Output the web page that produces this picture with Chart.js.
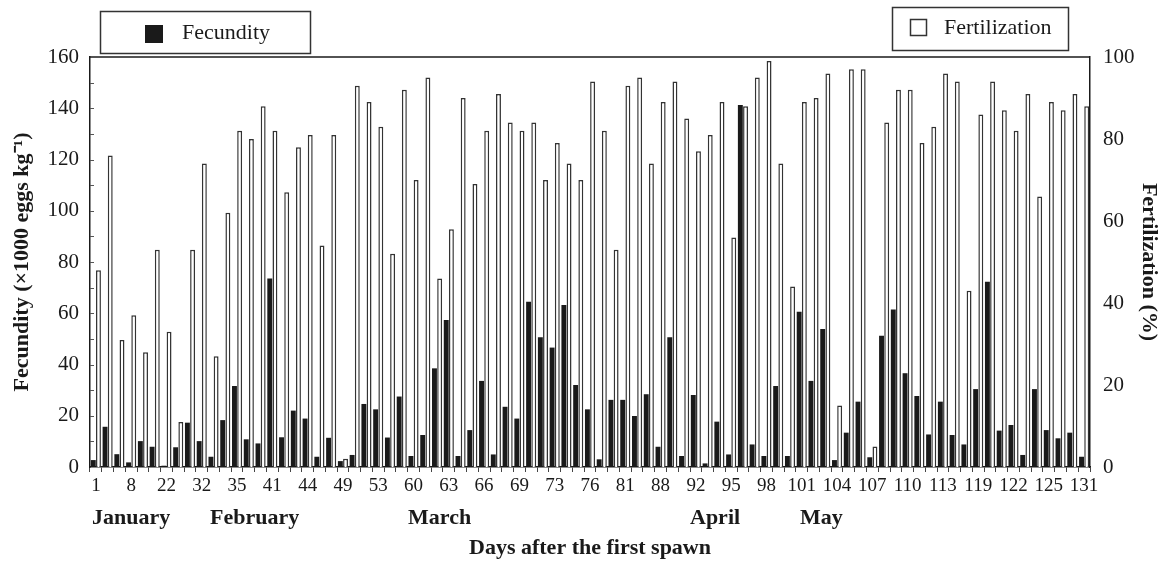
<!DOCTYPE html>
<html><head><meta charset="utf-8">
<script src="https://cdn.jsdelivr.net/npm/chart.js@4.4.1/dist/chart.umd.min.js"></script>
<style>html,body{margin:0;padding:0;background:#fff;} #wrap{width:1167px;height:573px;position:relative;}</style>
</head><body><div id="wrap"><canvas id="c" width="1167" height="573"></canvas></div>
<script>
const dayLabels = [1,8,22,32,35,41,44,49,53,60,63,66,69,73,76,81,88,92,95,98,101,104,107,110,113,119,122,125,131];
const fecundity = [2.7,15.7,5,1.8,10.1,7.9,0.5,7.7,17.3,10.1,4,18.3,31.6,10.8,9.2,73.6,11.6,22,18.9,4,
  11.4,2.3,4.7,24.6,22.5,11.5,27.5,4.3,12.5,38.5,57.4,4.3,14.4,33.6,4.9,23.5,18.9,64.5,50.6,46.6,
  63.2,32,22.5,3,26.2,26.2,19.9,28.4,7.9,50.6,4.3,28.1,1.4,17.7,4.9,141.3,8.8,4.3,31.6,4.3,
  60.6,33.6,53.9,2.7,13.4,25.5,3.8,51.2,61.5,36.6,27.7,12.7,25.5,12.5,8.8,30.4,72.3,14.2,16.4,4.7,
  30.4,14.4,11.2,13.4,4];
const fertilization = [48,76,31,37,28,53,33,11,53,74,27,62,82,80,88,82,67,78,81,54,
  81,2,93,89,83,52,92,70,95,46,58,90,69,82,91,84,82,84,70,79,
  74,70,94,82,53,93,95,74,89,94,85,77,81,89,56,88,95,99,74,44,
  89,90,96,15,97,97,5,84,92,92,79,83,96,94,43,86,94,87,82,91,
  66,89,87,91,88];
const months = ['January','February','March','April','May'];
const fecundityTicks = [0,20,40,60,80,100,120,140,160];
const fertilizationTicks = [0,20,40,60,80,100];

const categories = fecundity.map((_, i) => i % 3 === 0 ? String(dayLabels[i / 3]) : '');
const FONT = "'Liberation Serif', 'Times New Roman', serif";
const INK = '#1a1a1a';
const monthLeft = [92, 210, 408, 690, 800];

const decor = {
  id: 'decor',
  afterDraw(chart) {
    const {ctx, chartArea: a} = chart;
    const y = chart.scales.y;
    ctx.save();
    ctx.strokeStyle = INK; ctx.lineWidth = 1.5;
    ctx.beginPath(); ctx.moveTo(a.left, a.top); ctx.lineTo(a.right, a.top); ctx.stroke();
    ctx.lineWidth = 1; ctx.strokeStyle = '#555';
    for (let v = 10; v < 160; v += 10) {
      const py = Math.round(y.getPixelForValue(v)) + 0.5;
      ctx.beginPath(); ctx.moveTo(a.left, py); ctx.lineTo(a.left + 4, py); ctx.stroke();
    }
    ctx.lineWidth = 1.5; ctx.strokeStyle = '#333';
    ctx.strokeRect(100.5, 11.5, 210, 42);
    ctx.fillStyle = INK; ctx.fillRect(145, 25, 18, 18);
    ctx.strokeRect(892.5, 7.5, 176, 43);
    ctx.fillStyle = '#fff'; ctx.fillRect(910, 19, 16, 16);
    ctx.strokeRect(910.5, 19.5, 16, 16);
    ctx.fillStyle = INK; ctx.textBaseline = 'middle'; ctx.textAlign = 'left';
    ctx.font = "22px " + FONT;
    ctx.fillText('Fecundity', 182, 33);
    ctx.fillText('Fertilization', 944, 28);
    ctx.font = "bold 22px " + FONT;
    months.forEach((m, i) => ctx.fillText(m, monthLeft[i], 518));
    ctx.restore();
  }
};

new Chart(document.getElementById('c'), {
  type: 'bar',
  data: {
    labels: categories,
    datasets: [
      { label: 'Fecundity', data: fecundity, yAxisID: 'y', backgroundColor: INK, borderColor: INK, borderWidth: 0,
        categoryPercentage: 0.88, barPercentage: 0.95 },
      { label: 'Fertilization', data: fertilization, yAxisID: 'y1', backgroundColor: '#fff', borderColor: '#333', borderWidth: 1.5,
        categoryPercentage: 0.88, barPercentage: 0.95 }
    ]
  },
  options: {
    responsive: false, animation: false,
    layout: { padding: { top: 57, left: 0, right: 0, bottom: 0 } },
    plugins: { legend: { display: false }, tooltip: { enabled: false } },
    scales: {
      x: {
        offset: true,
        grid: { display: true, drawOnChartArea: false, drawTicks: true, tickLength: 5, color: '#444', offset: true },
        border: { display: true, color: INK, width: 1.5 },
        ticks: { autoSkip: false, maxRotation: 0, minRotation: 0, padding: 3, color: INK, font: { family: FONT, size: 19 } },
        title: { display: true, text: 'Days after the first spawn', color: INK, font: { family: FONT, size: 22, weight: 'bold' }, padding: { top: 0, bottom: 11 } },
        afterFit(s) { s.height = 106; }
      },
      y: {
        position: 'left', min: 0, max: 160,
        afterBuildTicks(s) { s.ticks = fecundityTicks.map(v => ({ value: v })); },
        grid: { display: false, drawTicks: false },
        border: { display: true, color: INK, width: 1.5 },
        ticks: { padding: 11, color: INK, font: { family: FONT, size: 21 } },
        title: { display: true, text: 'Fecundity (×1000 eggs kg⁻¹)', color: INK, font: { family: FONT, size: 22, weight: 'bold' }, padding: { top: 9, bottom: 0 } },
        afterFit(s) { s.width = 90; }
      },
      y1: {
        position: 'right', min: 0, max: 100,
        afterBuildTicks(s) { s.ticks = fertilizationTicks.map(v => ({ value: v })); },
        grid: { display: false, drawTicks: false },
        border: { display: true, color: INK, width: 1.5 },
        ticks: { padding: 13, color: INK, font: { family: FONT, size: 21 } },
        title: { display: true, text: 'Fertilization (%)', color: INK, font: { family: FONT, size: 22, weight: 'bold' }, padding: { top: 5, bottom: 0 } },
        afterFit(s) { s.width = 77; }
      }
    }
  },
  plugins: [decor]
});
</script>
</body></html>
